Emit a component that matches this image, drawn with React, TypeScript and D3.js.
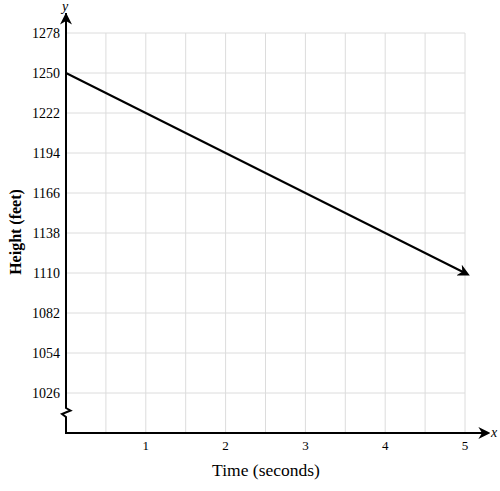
import * as d3 from 'd3'

const times = [0, 5]
const heights = [1250, 1110]
const yTicks = [1026, 1054, 1082, 1110, 1138, 1166, 1194, 1222, 1250, 1278]
const xTicks = [1, 2, 3, 4, 5]
const xGrid = [0.5, 1, 1.5, 2, 2.5, 3, 3.5, 4, 4.5, 5]

const W = 500
const H = 491
const font = '"Liberation Serif", "DejaVu Serif", serif'

export default function App() {
  const x = d3.scaleLinear().domain([0, 5]).range([66, 465])
  const y = d3.scaleLinear().domain([998, 1278]).range([433, 33])

  const line = d3
    .line<number>()
    .x((_, i) => x(times[i]))
    .y(d => y(d))

  const x0 = x(0)
  const y0 = y(998)
  const breakPath = `M${x0},${y(1278) - 20} L${x0},408 L${x0 + 4.5},410.5 L${x0 - 4},414 L${x0},417 L${x0},${y0}`

  return (
    <svg
      width={W}
      height={H}
      style={{ position: 'absolute', left: 0, top: 0, background: '#fff' }}
      fontFamily={font}
    >
      <defs>
        <marker
          id="arr"
          viewBox="0 0 10 10"
          refX="5.5"
          refY="5"
          markerWidth="12"
          markerHeight="12"
          markerUnits="userSpaceOnUse"
          orient="auto"
        >
          <path d="M0,0 L10,5 L0,10 L3,5 Z" fill="#000" />
        </marker>
        <marker
          id="arrAxis"
          viewBox="0 0 10 10"
          refX="8"
          refY="5"
          markerWidth="12"
          markerHeight="12"
          markerUnits="userSpaceOnUse"
          orient="auto"
        >
          <path d="M0,0 L10,5 L0,10 L3,5 Z" fill="#000" />
        </marker>
      </defs>

      {/* grid */}
      <g stroke="#dcdcdc" strokeWidth={1}>
        {xGrid.map(t => (
          <line key={'gx' + t} x1={x(t)} x2={x(t)} y1={y(1278)} y2={y0} />
        ))}
        {yTicks.map(v => (
          <line key={'gy' + v} x1={x0} x2={x(5)} y1={y(v)} y2={y(v)} />
        ))}
      </g>

      {/* axes */}
      <path d={breakPath} fill="none" stroke="#000" strokeWidth={2} />
      <line x1={x0} x2={x0} y1={y(1278) - 4} y2={15} stroke="#000" strokeWidth={2} markerEnd="url(#arrAxis)" />
      <line x1={x0 - 1} x2={488} y1={y0} y2={y0} stroke="#000" strokeWidth={2} markerEnd="url(#arrAxis)" />

      {/* y ticks */}
      <g fontSize={14} textAnchor="end" fill="#000">
        {yTicks.map(v => (
          <text key={'ty' + v} x={60} y={y(v) + 4.5}>
            {v}
          </text>
        ))}
      </g>
      {/* x ticks */}
      <g fontSize={13} textAnchor="middle" fill="#000">
        {xTicks.map(t => (
          <text key={'tx' + t} x={x(t)} y={450}>
            {t}
          </text>
        ))}
      </g>

      {/* data line */}
      <path
        d={line(heights) ?? ''}
        fill="none"
        stroke="#000"
        strokeWidth={2}
        markerEnd="url(#arr)"
      />

      {/* axis letters */}
      <text x={65} y={11} fontSize={14} fontStyle="italic" textAnchor="middle">
        y
      </text>
      <text x={491} y={437} fontSize={14} fontStyle="italic">
        x
      </text>

      {/* titles */}
      <text x={266} y={476} fontSize={17.5} textAnchor="middle">
        Time (seconds)
      </text>
      <text
        transform="translate(21,232) rotate(-90)"
        fontSize={16}
        fontWeight="bold"
        textAnchor="middle"
      >
        Height (feet)
      </text>
    </svg>
  )
}
